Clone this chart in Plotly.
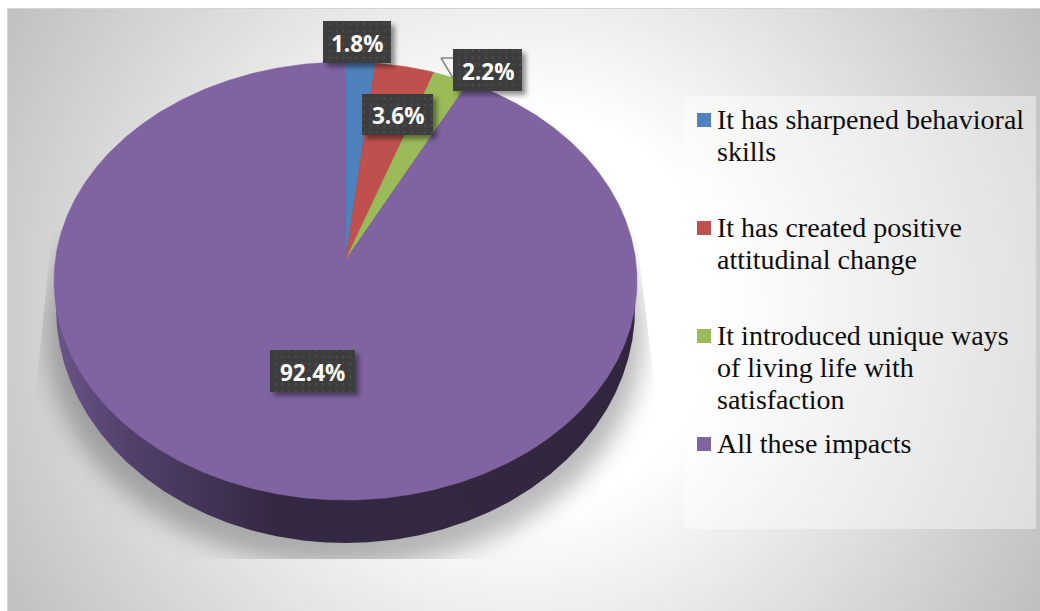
import base64
import numpy as np
import plotly.graph_objects as go

# Survey shares, clockwise from twelve o'clock
categories = [
    "It has sharpened behavioral skills",
    "It has created positive attitudinal change",
    "It introduced unique ways of living life with satisfaction",
    "All these impacts",
]
shares = [1.8, 3.6, 2.2, 92.4]
slice_colors = ["#4f81bd", "#c0504d", "#9bbb59", "#8064a2"]

legend_lines = [
    ["It has sharpened behavioral", "skills"],
    ["It has created positive", "attitudinal change"],
    ["It introduced unique ways", "of living life with", "satisfaction"],
    ["All these impacts"],
]
legend_swatch_y = [120, 228, 336, 444]
LEGEND_PITCH = 32

# Value label boxes: left, top, right, bottom in page pixels
label_boxes = [(323, 21, 391, 63), (362, 94, 433, 135), (453, 49, 522, 91), (270, 350, 355, 392)]

W, H = 1040, 611
APEX_X, APEX_Y = 345.5, 260.0
A, B, K = 290.2, 217.0, 0.0959  # tilted-disc projection
BASE_RX, BASE_RY, BASE_CY = 289.5, 235.0, 308.0  # outline of the disc's underside


def project(theta):
    """Map angles on the disc (clockwise from the top) to page pixels."""
    u, v = np.sin(theta), np.cos(theta)
    d = 1 + K * v
    return APEX_X + A * u / d, APEX_Y - B * v / d


def svg_uri(body):
    svg = f'<svg xmlns="http://www.w3.org/2000/svg" width="{W}" height="{H}" viewBox="0 0 {W} {H}">{body}</svg>'
    return "data:image/svg+xml;base64," + base64.b64encode(svg.encode()).decode()


backdrop = svg_uri(f"""
<defs>
<radialGradient id="bg" gradientUnits="userSpaceOnUse" cx="520" cy="310" r="600">
<stop offset="0.33" stop-color="#ffffff"/><stop offset="1" stop-color="#bfbfbf"/>
</radialGradient>
<filter id="soft" x="-20%" y="-20%" width="140%" height="140%"><feGaussianBlur stdDeviation="12"/></filter>
<clipPath id="floor"><polygon points="52,230 36,390 36,559 655,559 655,390 636,230"/></clipPath>
</defs>
<rect x="7" y="8" width="{W-7}" height="{H-8}" fill="#d4d4d4"/>
<rect x="8" y="9" width="{W-8}" height="{H-9}" fill="url(#bg)"/>
<g clip-path="url(#floor)"><ellipse cx="345" cy="335" rx="298" ry="232" fill="#000" fill-opacity="0.27" filter="url(#soft)"/></g>
<rect x="684" y="96" width="352" height="433" fill="#fff" fill-opacity="0.42"/>
""")

boxes_svg = "".join(
    f'<rect x="{l}" y="{t}" width="{r-l}" height="{b-t}" fill="url(#dots)" filter="url(#drop)"/>'
    for l, t, r, b in label_boxes
)
label_plates = svg_uri(f"""
<defs>
<pattern id="dots" width="6.8" height="6.8" patternUnits="userSpaceOnUse">
<rect width="6.8" height="6.8" fill="#3e3e3e"/><circle cx="3.4" cy="3.4" r="1" fill="#525252"/>
</pattern>
<filter id="drop" x="-20%" y="-20%" width="150%" height="160%">
<feDropShadow dx="4" dy="4" stdDeviation="2.5" flood-color="#000" flood-opacity="0.42"/>
</filter>
</defs>
{boxes_svg}
""")

fig = go.Figure()

# Underside of the disc; the top face covers all but the near rim
sweep = np.linspace(0, 2 * np.pi, 721)
fig.add_trace(go.Scatter(
    x=APEX_X + BASE_RX * np.sin(sweep), y=BASE_CY + BASE_RY * np.cos(sweep),
    mode="lines", fill="toself", line=dict(width=0),
    fillgradient=dict(
        type="horizontal", start=54, stop=637,
        colorscale=[[0, "#6b5589"], [0.13, "#52406b"], [0.38, "#352842"], [1, "#32263f"]],
    ),
    hoverinfo="skip", showlegend=False,
))

# Top face slices
edges = 2 * np.pi * np.cumsum([0] + shares) / sum(shares)
for name, color, a0, a1 in zip(categories, slice_colors, edges[:-1], edges[1:]):
    t = np.linspace(a0, a1, max(int((a1 - a0) * 120), 8))
    x, y = project(t)
    fig.add_trace(go.Scatter(
        x=np.concatenate([[APEX_X], x, [APEX_X]]),
        y=np.concatenate([[APEX_Y], y, [APEX_Y]]),
        mode="lines", fill="toself", fillcolor=color,
        line=dict(color=color, width=0.5), name=name, showlegend=False,
    ))

# Callout tail of the 2.2% label
fig.add_trace(go.Scatter(
    x=[453, 441, 453], y=[58, 58, 78], mode="lines",
    line=dict(color="#858585", width=1.5), hoverinfo="skip", showlegend=False,
))

# Legend swatches
fig.add_trace(go.Scatter(
    x=[704] * len(categories), y=legend_swatch_y, mode="markers",
    marker=dict(symbol="square", size=14, color=slice_colors, line=dict(width=0)),
    hoverinfo="skip", showlegend=False,
))

annotations = []
for lines, y0 in zip(legend_lines, legend_swatch_y):
    for i, line in enumerate(lines):
        annotations.append(dict(
            x=717, y=y0 + i * LEGEND_PITCH - 0.5, xref="x", yref="y", text=line, showarrow=False,
            xanchor="left", yanchor="middle", xshift=-2,
            font=dict(family="Liberation Serif", size=28, color="#0d0d0d"),
        ))
for share, (l, t, r, b) in zip(shares, label_boxes):
    annotations.append(dict(
        x=(l + r) / 2, y=(t + b) / 2 + 1, xref="x", yref="y", text=f"{share:.1f}%", showarrow=False,
        xanchor="center", yanchor="middle",
        font=dict(family="Open Sans", size=22.5, color="#ffffff", weight=700),
    ))

fig.update_layout(
    width=W, height=H, autosize=False,
    margin=dict(l=0, r=0, t=0, b=0),
    paper_bgcolor="#ffffff", plot_bgcolor="rgba(0,0,0,0)",
    xaxis=dict(range=[0, W], visible=False, fixedrange=True),
    yaxis=dict(range=[H, 0], visible=False, fixedrange=True),
    showlegend=False,
    annotations=annotations,
    images=[
        dict(source=backdrop, xref="paper", yref="paper", x=0, y=1, sizex=1, sizey=1,
             xanchor="left", yanchor="top", sizing="stretch", layer="below"),
        dict(source=label_plates, xref="paper", yref="paper", x=0, y=1, sizex=1, sizey=1,
             xanchor="left", yanchor="top", sizing="stretch", layer="above"),
    ],
)

fig.write_html("out.html", config=dict(displayModeBar=False))
